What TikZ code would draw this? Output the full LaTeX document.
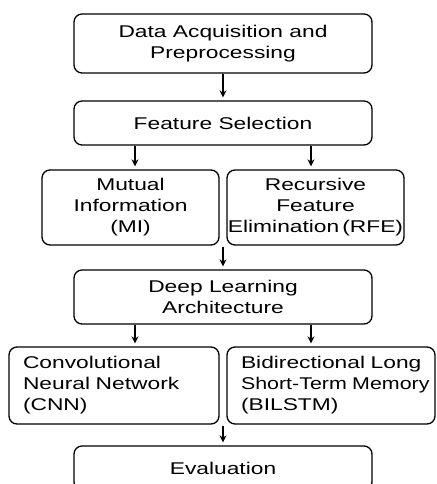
\documentclass[tikz,border=0pt]{standalone}
\usepackage{fontspec}
\setmainfont{Liberation Sans}[FakeStretch=1.34]
\usetikzlibrary{arrows.meta,calc}
\begin{document}
\begin{tikzpicture}[x=1pt,y=-1pt,
  box/.style={draw,rounded corners=8pt,line width=1.3pt,inner sep=0pt,
    font=\fontsize{17}{21}\selectfont,align=center},
  leftbox/.style={box,align=left},
  conn/.style={line width=1.1pt,-{Stealth[length=7pt,width=7pt]},shorten >=3pt}]
\useasboundingbox (0,0) rectangle (436,484);
% pipeline stages
\node[box,minimum width=298pt,minimum height=59pt] (acq) at (223,43.5)
  {Data Acquisition and\\Preprocessing};
\node[box,minimum width=298pt,minimum height=44pt] (fs) at (223,123)
  {Feature Selection};
\node[box,minimum width=177pt,minimum height=75pt] (mi) at (130.5,207.5)
  {Mutual\\Information\\(MI)};
\node[box,minimum width=177pt,minimum height=75pt] (rfe) at (315.5,207.5)
  {Recursive\\Feature\\Elimination\hspace{3pt}(RFE)};
\node[box,minimum width=298pt,minimum height=54pt] (dl) at (223,297)
  {Deep Learning\\Architecture};
\node[leftbox,minimum width=210pt,minimum height=77pt,text width=182pt] (cnn) at (114,385.5)
  {\mbox{Convolutional}\\\mbox{Neural Network}\\(CNN)};
\node[leftbox,minimum width=208pt,minimum height=77pt,text width=180pt] (lstm) at (331,385.5)
  {\mbox{Bidirectional Long}\\\mbox{\scalebox{0.94}[1]{Short-Term Memory}}\\(BILSTM)};
\node[box,minimum width=298pt,minimum height=44pt] (eval) at (223,468)
  {Evaluation};
% joints between the paired boxes
\coordinate (j1) at ($(mi.south east)!0.5!(rfe.south west)$);
\coordinate (j2) at ($(cnn.south east)!0.5!(lstm.south west)$);
% connectors
\draw[conn] (acq) -- (fs);
\draw[conn] ([xshift=-88pt]fs.south) -- ([xshift=-88pt]fs.south |- mi.north);
\draw[conn] ([xshift=88pt]fs.south) -- ([xshift=88pt]fs.south |- rfe.north);
\draw[conn,shorten <=1pt] (j1) -- (dl.north);
\draw[conn] ([xshift=-88pt]dl.south) -- ([xshift=-88pt]dl.south |- cnn.north);
\draw[conn] ([xshift=88pt]dl.south) -- ([xshift=88pt]dl.south |- lstm.north);
\draw[conn,shorten <=1pt] (j2) -- (eval.north);
\end{tikzpicture}
\end{document}
